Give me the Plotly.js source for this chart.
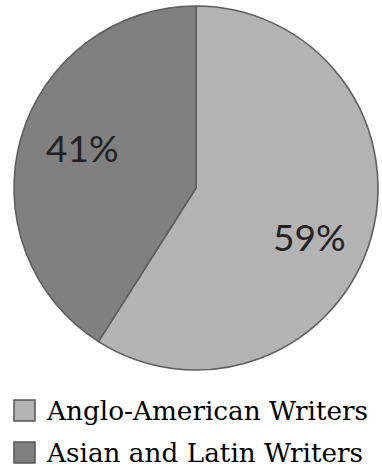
<!DOCTYPE html>
<html>
<head>
<meta charset="utf-8">
<script src="https://cdn.plot.ly/plotly-3.0.1.min.js"></script>
<style>html,body{margin:0;padding:0;background:#fff;}#chart{width:382px;height:468px;}</style>
</head>
<body>
<div id="chart"></div>
<script>
const categories = ["Anglo-American Writers", "Asian and Latin Writers"];
const values = [59, 41];
const sliceColors = ["#b3b3b3", "#808080"];

const trace = {
  type: "pie",
  labels: categories,
  values: values,
  sort: false,
  direction: "clockwise",
  rotation: 0,
  marker: {colors: sliceColors, line: {color: "#5e5e5e", width: 1.6}},
  textinfo: "none",
  hoverinfo: "none",
  showlegend: false,
  domain: {x: [0, 1], y: [0, 1]}
};

const layout = {
  width: 382, height: 468,
  margin: {l: 14, r: 4, t: 6, b: 98},
  paper_bgcolor: "#ffffff",
  showlegend: false,
  shapes: [],
  annotations: []
};

const plotW = 382 - 14 - 4, plotH = 468 - 6 - 98;
function px2x(px) { return (px - 14) / plotW; }
function py2y(py) { return (468 - 98 - py) / plotH; }

// percentage labels placed inside slices
const total = values.reduce((a, b) => a + b, 0);
const labelPos = [[309, 236], [82, 148]];
values.forEach((v, i) => {
  layout.annotations.push({
    xref: "paper", yref: "paper", x: px2x(labelPos[i][0]), y: py2y(labelPos[i][1]),
    xanchor: "center", yanchor: "middle", showarrow: false,
    text: Math.round(v / total * 100) + "%",
    font: {family: "Lato, 'Open Sans', sans-serif", size: 37, color: "#222222"}
  });
});

const legendTop = [400, 442];
categories.forEach((c, i) => {
  const top = legendTop[i];
  layout.shapes.push({
    type: "rect", xref: "paper", yref: "paper",
    x0: px2x(14), x1: px2x(35), y0: py2y(top + 21), y1: py2y(top),
    fillcolor: sliceColors[i], line: {color: "#555555", width: 1.5}
  });
  layout.annotations.push({
    xref: "paper", yref: "paper", x: px2x(44), y: py2y(top + 11),
    xanchor: "left", yanchor: "middle", showarrow: false,
    text: c,
    font: {family: "'DejaVu Serif', serif", size: 26.3, color: "#000000"}
  });
});

Plotly.newPlot("chart", [trace], layout, {displayModeBar: false, staticPlot: true});
</script>
</body>
</html>
